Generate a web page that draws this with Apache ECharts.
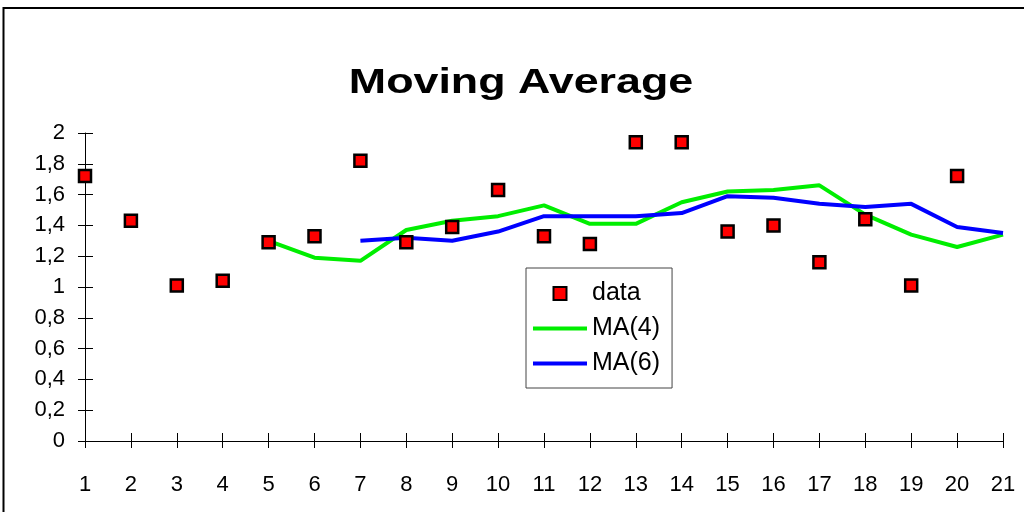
<!DOCTYPE html>
<html>
<head>
<meta charset="utf-8">
<title>Moving Average</title>
<script src="https://cdn.jsdelivr.net/npm/echarts@6/dist/echarts.min.js"></script>
<style>
  html, body { margin: 0; padding: 0; background: #ffffff; }
  #chart { width: 1024px; height: 512px; }
</style>
</head>
<body>
<div id="chart"></div>
<script>
// Periods 1..21
const categories = ['1', '2', '3', '4', '5', '6', '7', '8', '9', '10', '11',
  '12', '13', '14', '15', '16', '17', '18', '19', '20', '21'];

// Observed values (no observation in period 21)
const dataValues = [1.72, 1.43, 1.01, 1.04, 1.29, 1.33, 1.82, 1.29, 1.39, 1.63,
  1.33, 1.28, 1.94, 1.94, 1.36, 1.40, 1.16, 1.44, 1.01, 1.72, '-'];

// 4-period moving average (first value at period 5)
const ma4Values = ['-', '-', '-', '-', 1.30, 1.19, 1.17, 1.37, 1.43, 1.46,
  1.53, 1.41, 1.41, 1.55, 1.62, 1.63, 1.66, 1.47, 1.34, 1.26, 1.34];

// 6-period moving average (first value at period 7)
const ma6Values = ['-', '-', '-', '-', '-', '-', 1.30, 1.32, 1.30, 1.36,
  1.46, 1.46, 1.46, 1.48, 1.59, 1.58, 1.54, 1.52, 1.54, 1.39, 1.35];

const seriesNames = ['data', 'MA(4)', 'MA(6)'];

const FONT = '"Liberation Sans", Arial, Helvetica, sans-serif';

const chart = echarts.init(document.getElementById('chart'), null, { renderer: 'canvas' });

const commaDecimal = v => String(+(+v).toFixed(1)).replace('.', ',');

// legend glyphs: a small square for the points, a flat bar for the lines
const squareIcon = 'path://M0,0H10V10H0Z';
const barIcon = 'path://M0,0H54V4H0Z';

chart.setOption({
  animation: false,
  backgroundColor: '#ffffff',
  grid: {
    left: 85, right: 21, top: 133, bottom: 71,
    containLabel: false,
    outerBoundsMode: 'none'
  },
  xAxis: [
    {
      type: 'category',
      data: categories,
      boundaryGap: false,
      position: 'bottom',
      axisLine: { show: true, lineStyle: { color: '#000', width: 1 } },
      axisTick: { show: true, inside: false, length: 7, interval: 0, lineStyle: { color: '#000', width: 1 } },
      axisLabel: { show: true, interval: 0, margin: 33, color: '#000', fontFamily: FONT, fontSize: 22 },
      splitLine: { show: false }
    },
    {
      // upper half of the crossing ticks
      type: 'category',
      data: categories,
      boundaryGap: false,
      position: 'bottom',
      axisLine: { show: false },
      axisTick: { show: true, inside: true, length: 8, interval: 0, lineStyle: { color: '#000', width: 1 } },
      axisLabel: { show: false },
      splitLine: { show: false }
    }
  ],
  yAxis: [
    {
      type: 'value',
      min: 0, max: 2, interval: 0.2,
      position: 'left',
      axisLine: { show: true, lineStyle: { color: '#000', width: 1 } },
      axisTick: { show: true, inside: false, length: 7, lineStyle: { color: '#000', width: 1 } },
      axisLabel: { show: true, margin: 20, color: '#000', fontFamily: FONT, fontSize: 22, formatter: commaDecimal },
      splitLine: { show: false }
    },
    {
      // right half of the crossing ticks
      type: 'value',
      min: 0, max: 2, interval: 0.2,
      position: 'left',
      axisLine: { show: false },
      axisTick: { show: true, inside: true, length: 8, lineStyle: { color: '#000', width: 1 } },
      axisLabel: { show: false },
      splitLine: { show: false }
    }
  ],
  legend: {
    orient: 'vertical',
    left: 526,
    top: 268,
    data: [
      { name: seriesNames[0], icon: squareIcon },
      { name: seriesNames[1], icon: barIcon },
      { name: seriesNames[2], icon: barIcon }
    ],
    itemWidth: 54,
    itemHeight: 13,
    itemGap: 10,
    padding: [13, 12, 12, 7],
    borderColor: '#444',
    borderWidth: 1,
    backgroundColor: '#ffffff',
    selectedMode: false,
    textStyle: { fontFamily: FONT, fontSize: 25, color: '#000' }
  },
  graphic: [
    {
      type: 'text',
      x: 521,
      y: 83,
      scaleX: 1.28,
      style: {
        text: 'Moving Average',
        fontFamily: FONT,
        fontWeight: 'bold',
        fontSize: 35,
        fill: '#000',
        align: 'center',
        verticalAlign: 'middle'
      }
    },
    {
      type: 'polyline',
      shape: { points: [[3.5, 512], [3.5, 8], [1024, 8]] },
      style: { stroke: '#000', lineWidth: 2, fill: null }
    }
  ],
  series: [
    {
      name: seriesNames[0],
      type: 'scatter',
      data: dataValues,
      symbol: 'rect',
      symbolSize: 12,
      itemStyle: { color: '#ff0000', borderColor: '#000', borderWidth: 2.5, opacity: 1 },
      z: 5
    },
    {
      name: seriesNames[1],
      type: 'line',
      data: ma4Values,
      symbol: 'none',
      showSymbol: false,
      lineStyle: { color: '#00ee00', width: 4 },
      itemStyle: { color: '#00ee00', borderWidth: 0 },
      z: 3
    },
    {
      name: seriesNames[2],
      type: 'line',
      data: ma6Values,
      symbol: 'none',
      showSymbol: false,
      lineStyle: { color: '#0000ff', width: 4 },
      itemStyle: { color: '#0000ff', borderWidth: 0 },
      z: 3
    }
  ]
});
</script>
</body>
</html>
